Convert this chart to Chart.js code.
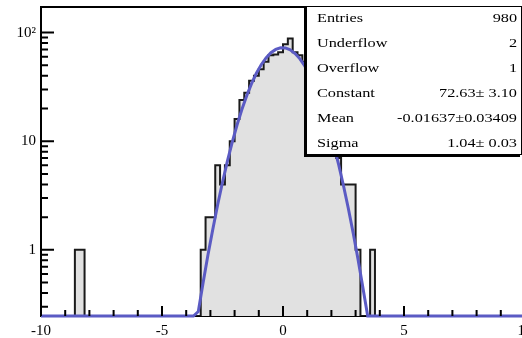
<!DOCTYPE html>
<html>
<head>
<meta charset="utf-8">
<script src="https://cdn.jsdelivr.net/npm/chart.js"></script>
<style>
  html, body { margin: 0; padding: 0; overflow: hidden; background: #fff; }
  .vis-container { position: relative; width: 530px; height: 338px; }
  .stats {
    position: absolute; left: 306px; top: 6px; width: 214px; height: 147px;
    background: #fff; border: 1px solid #000; box-shadow: -2px 2px 0 #000;
    overflow: hidden;
  }
  .stats-inner {
    position: relative; top: -2px; width: 171px;
    transform: scaleX(1.25); transform-origin: 0 0;
    font-family: "Liberation Serif", "DejaVu Serif", serif; font-size: 13px; color: #000;
  }
  .row { display: flex; justify-content: space-between; height: 25px; line-height: 25px; padding: 0 3px 0 8px; }
</style>
</head>
<body>
<div class="vis-container">
  <canvas class="vis" width="530" height="338"></canvas>
  <div class="stats"><div class="stats-inner"></div></div>
</div>
<script>
// histogram: 100 bins from -10 to 10
const binLow = -10;
const binWidth = 0.2;
const counts = [
  0, 0, 0, 0, 0, 0, 0, 1, 1, 0,
  0, 0, 0, 0, 0, 0, 0, 0, 0, 0,
  0, 0, 0, 0, 0, 0, 0, 0, 0, 0,
  0, 0, 0, 1, 2, 2, 6, 4, 6, 10,
  16, 24, 28, 36, 40, 46, 54, 62, 63, 66,
  78, 88, 66, 62, 54, 42, 33, 24, 19, 13,
  9, 7, 4, 4, 4, 1, 0, 0, 1, 0,
  0, 0, 0, 0, 0, 0, 0, 0, 0, 0,
  0, 0, 0, 0, 0, 0, 0, 0, 0, 0,
  0, 0, 0, 0, 0, 0, 0, 0, 0, 0
];

// fitted gaussian
const fitX = [-10, -3.7, -3.5, -3.3, -3.1, -2.9, -2.7, -2.5, -2.3, -2.1, -1.9, -1.7, -1.5, -1.3, -1.1, -0.9, -0.7, -0.5, -0.3, -0.1,
  0.1, 0.3, 0.5, 0.7, 0.9, 1.1, 1.3, 1.5, 1.7, 1.9, 2.1, 2.3, 2.5, 2.7, 2.9, 3.1, 3.3, 3.5, 3.7, 10];
const fitY = [0, 0.14, 0.27, 0.50, 0.90, 1.55, 2.60, 4.19, 6.51, 9.75, 14.1, 19.6, 26.2, 33.9, 42.2, 50.6, 58.5, 65.2, 70.0, 72.4,
  72.2, 69.4, 64.2, 57.3, 49.3, 40.8, 32.6, 25.1, 18.6, 13.3, 9.17, 6.09, 3.89, 2.40, 1.43, 0.82, 0.45, 0.24, 0.12, 0];

const xTicks = [-10, -5, 0, 5, 10];
const yTicks = [1, 10, 100];
const yMin = 0.246;
const yMax = 172;

const statNames = ['Entries', 'Underflow', 'Overflow', 'Constant', 'Mean', 'Sigma'];
const statValues = ['980', '2', '1', '72.63\u00b1 3.10', '-0.01637\u00b10.03409', '1.04\u00b1 0.03'];

const serif = '"Liberation Serif", "DejaVu Serif", serif';

// values under the axis minimum are drawn on the bottom edge, like ROOT does
const clamp = v => Math.max(v, yMin);

const histPoints = counts.map((c, i) => ({ x: binLow + i * binWidth, y: clamp(c) }));
histPoints.push({ x: binLow + counts.length * binWidth, y: yMin });

const fitPoints = fitX.map((x, i) => ({ x: x, y: clamp(fitY[i]) }));

const frame = {
  id: 'frame',
  beforeDatasetsDraw(chart) {
    const { ctx, chartArea: a } = chart;
    ctx.save();
    ctx.strokeStyle = '#000';
    ctx.lineWidth = 2;
    ctx.strokeRect(a.left, a.top, a.right - a.left, a.bottom - a.top);
    ctx.restore();
  },
  afterDatasetsDraw(chart) {
    const { ctx, chartArea: a, scales } = chart;
    ctx.save();
    ctx.strokeStyle = '#000';
    ctx.lineWidth = 2;
    ctx.beginPath();
    ctx.moveTo(a.left, a.top);
    ctx.lineTo(a.left, a.bottom);
    // x ticks, pointing up into the frame
    for (let v = -10; v <= 10; v++) {
      const px = scales.x.getPixelForValue(v);
      const len = v % 5 === 0 ? 10 : 6;
      ctx.moveTo(px, a.bottom);
      ctx.lineTo(px, a.bottom - len);
    }
    // log ticks on y
    [0.1, 1, 10, 100].forEach(d => {
      for (let m = 1; m <= 9; m++) {
        const v = m * d;
        if (v < yMin || v > yMax) continue;
        const py = scales.y.getPixelForValue(v);
        ctx.moveTo(a.left, py);
        ctx.lineTo(a.left + (m === 1 ? 13 : 7), py);
      }
    });
    ctx.stroke();
    ctx.restore();
  }
};

function vis() {

  const inner = document.querySelector('.stats-inner');
  statNames.forEach((name, i) => {
    const row = document.createElement('div');
    row.className = 'row';
    row.innerHTML = `<span>${name}</span><span>${statValues[i]}</span>`;
    inner.appendChild(row);
  });

  new Chart(document.querySelector('.vis'), {
    type: 'line',
    data: {
      datasets: [
        {
          data: histPoints,
          stepped: true,
          borderColor: '#1a1a1a',
          borderWidth: 2,
          backgroundColor: '#e1e1e1',
          fill: 'start',
          pointRadius: 0,
          order: 2
        },
        {
          data: fitPoints,
          borderColor: '#5b5bc4',
          borderWidth: 3,
          fill: false,
          pointRadius: 0,
          clip: 4,
          order: 1
        }
      ]
    },
    options: {
      responsive: false,
      devicePixelRatio: 1,
      animation: false,
      layout: { padding: { top: 7, right: 5, left: 0, bottom: 0 }, autoPadding: false },
      plugins: { legend: { display: false }, tooltip: { enabled: false } },
      scales: {
        x: {
          type: 'linear',
          min: -10,
          max: 10,
          afterFit: s => { s.height = 22; s.paddingLeft = 0; s.paddingRight = 0; },
          afterBuildTicks: s => { s.ticks = xTicks.map(v => ({ value: v })); },
          grid: { display: false, drawTicks: false },
          border: { display: false },
          ticks: {
            padding: 6,
            color: '#000',
            font: { family: serif, size: 15 },
            callback: v => String(v)
          }
        },
        y: {
          type: 'logarithmic',
          min: yMin,
          max: yMax,
          afterFit: s => { s.width = 41; s.paddingTop = 0; s.paddingBottom = 0; },
          afterBuildTicks: s => { s.ticks = yTicks.map(v => ({ value: v })); },
          grid: { display: false, drawTicks: false },
          border: { display: false },
          ticks: {
            padding: 5,
            color: '#000',
            font: { family: serif, size: 15 },
            callback: v => v === 100 ? '10\u00b2' : String(v)
          }
        }
      }
    },
    plugins: [frame]
  });

}

vis();
</script>
</body>
</html>
